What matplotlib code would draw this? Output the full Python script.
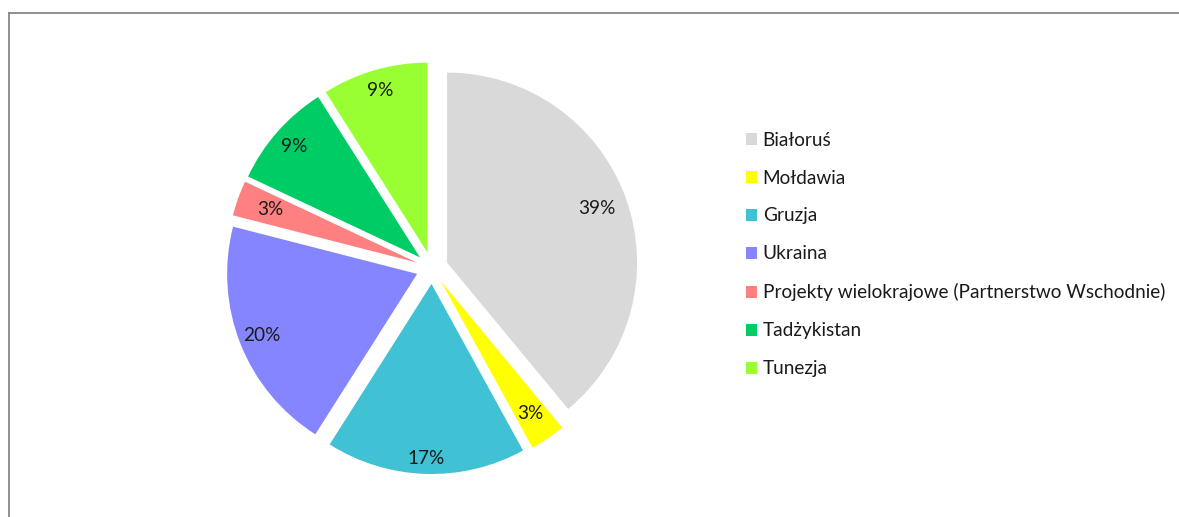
import matplotlib
matplotlib.use('Agg')
import numpy as np
import matplotlib.pyplot as plt
from matplotlib.lines import Line2D

# data
countries = ['Białoruś', 'Mołdawia', 'Gruzja', 'Ukraina',
             'Projekty wielokrajowe (Partnerstwo Wschodnie)', 'Tadżykistan', 'Tunezja']
shares = [39, 3, 17, 20, 3, 9, 9]
colors = ['#d9d9d9', '#ffff00', '#40c1d4', '#8585ff', '#ff8080', '#00cc66', '#99ff33']
# label distance from slice tip, as fraction of radius ("best fit" look)
label_dist = [0.84, 0.84, 0.92, 0.88, 0.82, 0.88, 0.89]

W, H = 1179, 517
fig = plt.figure(figsize=(W / 100, H / 100), dpi=100)
ax = fig.add_axes([0, 0, 1, 1])

plt.rcParams['font.family'] = ['Lato', 'DejaVu Sans']

# axes are in pixel units, so explode is an offset in pixels here
wedges, texts, autotexts = ax.pie(
    shares, colors=colors, startangle=90, counterclock=False,
    center=(432, H - 268), radius=190, explode=[16] * len(shares),
    autopct='%d%%', pctdistance=0.87, frame=True,
    wedgeprops=dict(linewidth=0),
    textprops=dict(fontsize=13.7, color='#1a1a1a'))

for w, t, d in zip(wedges, autotexts, label_dist):
    mid = np.deg2rad((w.theta1 + w.theta2) / 2)
    cx, cy = w.center
    t.set_position((cx + d * w.r * np.cos(mid), cy + d * w.r * np.sin(mid)))

ax.set_xlim(0, W)
ax.set_ylim(0, H)
ax.axis('off')

leg = ax.legend(wedges, countries, loc='upper left',
                bbox_to_anchor=(738 / W, 1 - 124 / H),
                frameon=False, fontsize=13.7, handlelength=0.6, handleheight=0.6,
                handletextpad=0.3, labelspacing=1.1, borderaxespad=0)
for t in leg.get_texts():
    t.set_color('#1a1a1a')

# chart frame (top and left edges visible)
fig.add_artist(Line2D([9 / W, 1], [1 - 13 / H, 1 - 13 / H], color='#878787', lw=1.3))
fig.add_artist(Line2D([9 / W, 9 / W], [0, 1 - 13 / H], color='#878787', lw=1.3))

plt.savefig('out.png', dpi=100)
plt.close(fig)
